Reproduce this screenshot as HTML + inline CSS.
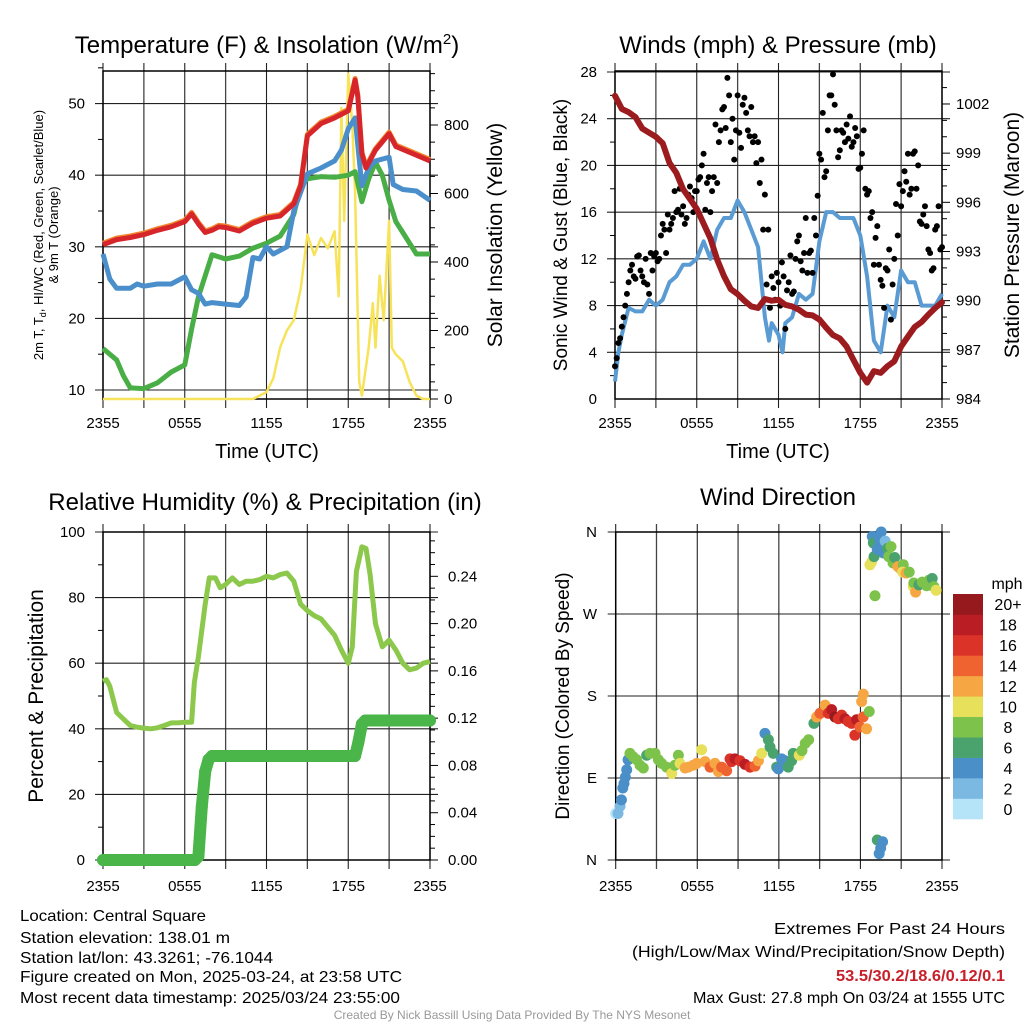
<!DOCTYPE html>
<html><head><meta charset="utf-8"><style>
html,body{margin:0;padding:0;background:#fff;}
svg{display:block;font-family:"Liberation Sans",sans-serif;}
</style></head><body>
<svg id="root" width="1024" height="1024" viewBox="0 0 1024 1024" xmlns="http://www.w3.org/2000/svg">
<g id="g-tl"></g>
<g id="g-tr"></g>
<g id="g-bl"></g>
<g id="g-br"></g>
<g font-size="16" fill="#000">
<text x="20" y="921" textLength="186" lengthAdjust="spacingAndGlyphs">Location: Central Square</text>
<text x="20" y="943" textLength="210" lengthAdjust="spacingAndGlyphs">Station elevation: 138.01 m</text>
<text x="20" y="963" textLength="253" lengthAdjust="spacingAndGlyphs">Station lat/lon: 43.3261; -76.1044</text>
<text x="20" y="982" textLength="382" lengthAdjust="spacingAndGlyphs">Figure created on Mon, 2025-03-24, at 23:58 UTC</text>
<text x="20" y="1003" textLength="380" lengthAdjust="spacingAndGlyphs">Most recent data timestamp: 2025/03/24 23:55:00</text>
</g>
<g font-size="16">
<text x="774" y="934" textLength="231" lengthAdjust="spacingAndGlyphs">Extremes For Past 24 Hours</text>
<text x="632" y="957" textLength="373" lengthAdjust="spacingAndGlyphs">(High/Low/Max Wind/Precipitation/Snow Depth)</text>
<text x="836" y="981" textLength="169" lengthAdjust="spacingAndGlyphs" fill="#c8202a" font-weight="bold">53.5/30.2/18.6/0.12/0.1</text>
<text x="693" y="1003" textLength="312" lengthAdjust="spacingAndGlyphs">Max Gust: 27.8 mph On 03/24 at 1555 UTC</text>
</g>
<text x="512" y="1019" font-size="12" fill="#999" text-anchor="middle">Created By Nick Bassill Using Data Provided By The NYS Mesonet</text>
</svg>
<script>
// ---------- DATA ----------
const timeTicks = ["2355","0555","1155","1755","2355"];
const tempHours = [0,1,2,3,4,5,6,6.5,7,7.5,8,8.5,9,10,11,12,13,14,14.5,15,16,17,18,18.3,18.5,18.7,19,19.3,20,21,21.5,22,23,24];
const tempRed   = [30.3,31.0,31.3,31.7,32.3,32.8,33.5,34.6,33.2,32.0,32.3,32.8,32.7,32.2,33.3,34.0,34.3,36.0,38.5,45.5,47.2,48.0,49.0,51.5,53.3,51,43,41,43.5,45.8,44,43.6,42.8,42.0];
const blueHours = [0,0.5,1,2,2.5,3,4,5,6,6.5,7,7.5,8,9,10,10.5,11,11.5,12,12.5,13,13.5,14,15,16,17,17.5,18,18.5,19,19.5,20,21,21.3,22,23,24];
const tempBlue  = [29,25.5,24.2,24.2,24.8,24.5,24.8,24.8,25.8,24.0,23.5,22,22.2,22.0,21.8,23,28.5,28.3,30.0,29,29.5,30,35,40.2,41.0,42.0,43.5,46.5,48,38.5,41.0,42,42.5,38.7,38,37.8,36.5];
const greenHours= [0,1,1.5,2,3,4,5,6,6.5,7,8,9,10,11,12,13,14,14.5,15,16,17,18,18.5,19,19.5,20,20.5,21,21.5,22,23,24];
const tempGreen = [15.8,14.2,12,10.3,10.2,11.0,12.5,13.5,18.5,23.0,28.9,28.3,28.7,29.8,30.5,31.5,34.5,38.5,39.5,39.8,39.7,40.0,40.5,36.3,39.5,41.8,40,36.5,33.5,32.0,29.0,29];
const solarHours= [0,11,11.5,12,12.5,13,13.5,14,14.5,15,15.5,16,16.5,17,17.3,17.5,17.7,18,18.3,18.5,18.8,19,19.5,19.8,20,20.3,20.6,21,21.2,21.5,22,22.5,23,23.5,24];
const solar     = [0,0,10,20,60,150,200,230,320,480,420,470,440,490,300,850,520,950,800,600,50,10,150,280,150,360,230,520,150,130,110,50,10,0,0];
const windHours = [0,0.25,0.5,1,1.5,2,2.5,3,3.5,4,4.5,5,5.5,6,6.5,7,7.5,8,8.5,9,9.5,10,10.5,11,11.3,11.5,12,12.3,12.5,13,13.5,14,14.5,15,15.5,16,16.5,17,17.5,18,18.5,19,19.5,20,20.5,21,21.5,22,22.5,23,23.5,24];
const windSpeed = [1.5,4,5.5,7.8,7.5,7.5,8.5,8,8.5,10,10.5,11.5,11.5,12,13.5,12,14.5,15.5,15.5,17,16,14.5,13,7,5,6.5,5.5,4,6.5,7,9,8.5,9,13.5,16,16,15.5,15.5,15.5,14,10.5,5,4,8,7,11,10,10,8,8,8,9];
const gustA = [2.8,4.8,6.2,8.0,10.0,11.5,10.3,12.3,10.5,12.0,9.0,11.0,12.5,12.0,15.0,12.5,14.5,15.5,16.0,18.0,16.5,15.5,18.2,16.0,17.8,19.0,21.0,18.5,16.0,19.0,18.5,23.0,25.0,27.5,22.0,20.5,26.0,21.5,25.8,23.0,25.0,22.5,22.0,20.5,17.5,14.5,10.5,8.5,10.0,11.7,6.0,10.0,9.0,12.0,14.0,11.0,15.5,12.5,10.8,14.0,21.0,24.5,19.5,26.0,27.8,23.0,21.3,22.8,23.5,24.2,22.0,22.5,19.8,23.0,17.5,15.5,11.5,14.8,10.2,7.8,11.0,6.8,12.0,14.0,16.5,19.5,21.0,18.0,21.2,20.0,15.0,16.5,12.8,11.0,14.5,16.5,13.0];
const gustB = [3.5,5.2,7.0,9.0,11.0,10.5,12.2,11.0,10.0,9.8,12.5,12.2,11.8,14.0,14.5,15.8,15.0,17.8,16.2,15.8,15.0,17.5,17.2,17.8,18.8,20.0,16.2,19.0,17.8,23.5,22.0,24.8,23.2,26.0,24.0,23.0,22.8,25.2,24.5,22.5,22.0,20.2,18.5,14.5,9.8,7.8,9.5,10.8,8.0,10.5,9.3,12.3,9.2,13.5,11.8,12.5,10.8,12.7,15.5,17.4,20.5,19.0,23.0,26.0,25.2,20.7,23.0,22.0,22.3,21.6,23.2,19.7,21.0,18.0,17.8,16.0,13.8,11.5,9.7,11.2,12.8,9.8,16.7,18.4,17.8,18.6,17.5,21.0,18.0,15.2,15.8,14.8,12.5,11.2,14.8,12.8];
const presHours = [0,0.5,1,1.5,2,3,3.5,4,4.5,5,6,6.5,7,7.5,8,8.5,9,9.5,10,10.5,11,11.5,12,12.5,13,13.5,14,14.5,15,15.5,16,16.5,17,17.5,18,18.5,19,19.5,20,20.5,21,21.5,22,22.5,23,23.5,24];
const pressure  = [1002.5,1001.7,1001.5,1001.2,1000.5,1000.0,999.6,998.4,997.8,996.8,995.6,994.7,993.8,992.5,991.5,990.7,990.4,990.0,989.65,989.55,990.1,990.0,990.05,989.75,989.65,989.45,989.15,989.1,988.85,988.35,987.9,987.7,987.2,986.4,985.6,985.0,985.7,985.6,986.0,986.3,987.2,987.8,988.4,988.7,989.15,989.55,989.9];
const rhHours = [0,0.25,0.5,1,1.5,2,2.5,3,3.5,4,4.5,5,5.5,6,6.5,6.7,7,7.5,7.8,8.25,8.6,9,9.5,10,10.5,11,11.5,12,12.5,13,13.5,14,14.5,15,15.5,16,16.5,17,17.5,18,18.3,18.6,19,19.3,19.6,20,20.5,21,21.5,22,22.5,23,23.5,24];
const rh = [54.5,55,53,45,43,41,40.5,40.2,40.0,40.3,41,41.8,41.8,42,42,54,62,78,86,86,83,84,86,84,85,85,85.5,86.5,86,87,87.5,85,78,76,74.5,73.5,71,68.5,64,60,65,88,95.5,95,87,72,65,67,64,60,58,58.5,60,60.5];
const precip = [0,0,0,0,0,0,0,0,0,0,0,0,0,0,0,0,0,0,0,0,0,0,0,0,0,0,0,0,0.003,0.045,0.075,0.085,0.088,0.088,0.088,0.088,0.088,0.088,0.088,0.088,0.088,0.088,0.088,0.088,0.088,0.088,0.088,0.088,0.088,0.088,0.088,0.088,0.088,0.088,0.088,0.088,0.088,0.088,0.088,0.088,0.088,0.088,0.088,0.088,0.088,0.088,0.088,0.088,0.088,0.088,0.088,0.088,0.088,0.088,0.088,0.1,0.115,0.118,0.118,0.118,0.118,0.118,0.118,0.118,0.118,0.118,0.118,0.118,0.118,0.118,0.118,0.118,0.118,0.118,0.118,0.118,0.118];
const wdHours = [0,0.17,0.32,0.42,0.52,0.61,0.71,0.81,0.91,1.05,1.3,1.54,1.79,2.03,2.28,2.52,2.89,3.14,3.38,3.74,4.12,4.36,4.61,4.73,5.1,5.34,5.71,5.96,6.32,6.57,6.94,7.3,7.55,7.79,8.16,8.41,8.53,8.77,9.14,9.51,9.88,10.25,10.5,10.74,10.98,11.23,11.35,11.59,11.84,11.96,12.2,12.45,12.69,12.94,13.06,13.5,13.7,13.94,14.19,14.58,14.78,15.03,15.4,15.64,15.88,16.13,16.37,16.62,16.86,17.1,17.35,17.59,17.72,17.96,18.09,18.21,18.2,18.45,18.65,
  18.7,18.82,18.87,19.0,18.95,19.24,19.38,19.45,19.53,19.7,19.82,20.0,20.08,20.25,20.4,20.52,20.76,20.98,21.15,21.11,21.35,21.59,21.89,21.93,22.06,22.3,22.55,22.87,23.04,23.28,23.4,23.57,
  19.07,19.24,19.63,19.49,19.38];
const wdDeg = [51,51,59,66,79,84,91,99,110,117,113,110,104,101,115,117,117,110,106,102,95,104,115,106,101,102,104,106,121,108,102,106,97,102,98,111,108,111,109,105,102,103,109,117,139,132,124,117,102,100,111,109,102,109,117,115,120,128,132,150,157,161,170,161,165,157,155,159,155,152,150,137,154,146,174,182,157,144,163,
  324,327,355,333,348,341,353,349,360,337,350,342,333,344,326,332,322,319,324,316,315,316,300,304,294,302,305,301,307,309,300,296,290,
  22,20,13,7,10];
const wdSpeed = [1,2,2,4,4,4,4,4,5,8,8,8,8,8,6,8,8,8,8,8,10,8,8,10,12,12,12,12,10,12,14,13,12,14,14,16,16,18,16,18,16,14,12,10,4,6,6,6,6,4,4,4,6,6,6,10,8,8,8,6,12,14,12,16,18,20,16,16,18,16,16,16,18,14,12,12,14,12,8,
  10,10,4,6,6,4,4,4,4,4,2,6,8,8,8,6,12,12,8,10,12,8,10,8,12,6,8,8,8,6,8,10,8,6,
  4,4,4,6,2];
const speedColors = ["#b5e3f7","#7cb9e2","#4a8fc8","#4aa36c","#7dc24a","#e6e05a","#f6a744","#ef6331","#dc3328","#bb1d25","#961a1d"];
const speedLabels = ["0","2","4","6","8","10","12","14","16","18","20+"];

// ---------- HELPERS ----------
const NS="http://www.w3.org/2000/svg";
function mk(parent,tag,attrs){const e=document.createElementNS(NS,tag);for(const k in attrs)e.setAttribute(k,attrs[k]);parent.appendChild(e);return e;}
function txt(parent,s,attrs){const e=mk(parent,"text",attrs);e.textContent=s;return e;}
function pathFrom(xs,ys,sx,sy){return xs.map((h,i)=>(i?"L":"M")+sx(h).toFixed(1)+","+sy(ys[i]).toFixed(1)).join("");}

function frame(g,X0,X1,Y0,Y1,hLines){
  for(let i=0;i<=8;i++){const x=X0+(X1-X0)*i/8;
    const l=mk(g,"line",{x1:x,x2:x,y1:Y0-8,y2:Y1+9,stroke:i%2?"#444":"#222","stroke-width":i%2?1.3:1.1});
    
    }
  hLines.forEach(y=>{const l=mk(g,"line",{x1:X0-8,x2:X1+8,y1:y,y2:y,stroke:"#222","stroke-width":1.1});
    
    });
  const r=mk(g,"rect",{x:X0,y:Y0,width:X1-X0,height:Y1-Y0,fill:"none",stroke:"#000","stroke-width":1.5});
  
  
}
function xticks(g,X0,X1,y){
  timeTicks.forEach((t,i)=>{const e=txt(g,t,{x:X0+(X1-X0)*i/4,y:y,"font-size":15,"text-anchor":"middle"});
    
    });
}
function minorTicks(g,x,ys,len){ys.forEach(y=>{const l=mk(g,"line",{x1:x,x2:x+len,y1:y,y2:y,stroke:"#000","stroke-width":1});
  
  });}

// ---------- TOP LEFT ----------
(function(){
  const g=document.getElementById("g-tl");
  const X0=103,X1=430,Y0=71,Y1=399;
  const sx=h=>X0+h*(X1-X0)/24;
  const sy=t=>390-(t-10)*7.16;
  const sr=w=>399-w*0.3425;
  frame(g,X0,X1,Y0,Y1,[10,20,30,40,50].map(sy));
  const ml=[];for(let t=15;t<=55;t+=10)ml.push(sy(t));minorTicks(g,X0-5,ml,5);
  const mr=[];for(let w=50;w<=950;w+=50)if(w%200)mr.push(sr(w));minorTicks(g,X1,mr,5);
  [0,200,400,600,800].forEach(w=>{mk(g,"line",{x1:X1,x2:X1+8,y1:sr(w),y2:sr(w),stroke:"#000"});
    const e=txt(g,String(w),{x:X1+14,y:sr(w)+5,"font-size":15});
    
    });
  [10,20,30,40,50].forEach(t=>{const e=txt(g,String(t),{x:X0-18,y:sy(t)+5,"font-size":15,"text-anchor":"end"});
    
    });
  xticks(g,X0,X1,428);
  const sol=mk(g,"path",{d:pathFrom(solarHours,solar,sx,sr),fill:"none",stroke:"#f7e35a","stroke-width":2.5,"stroke-linejoin":"round"});
  
  
  const gr=mk(g,"path",{d:pathFrom(greenHours,tempGreen,sx,sy),fill:"none",stroke:"#4aae47","stroke-width":5,"stroke-linejoin":"round"});
  
  
  const bl=mk(g,"path",{d:pathFrom(blueHours,tempBlue,sx,sy),fill:"none",stroke:"#4a8fcb","stroke-width":5,"stroke-linejoin":"round"});
  
  
  const or=mk(g,"path",{d:pathFrom(tempHours,tempRed,sx,t=>sy(t)-1.5),fill:"none",stroke:"#f2872f","stroke-width":5,"stroke-linejoin":"round"});
  
  
  const rd=mk(g,"path",{d:pathFrom(tempHours,tempRed,sx,sy),fill:"none",stroke:"#d7262b","stroke-width":5,"stroke-linejoin":"round"});
  
  
  const t1=txt(g,"",{x:267,y:53,"font-size":24,"text-anchor":"middle"});
  t1.innerHTML='Temperature (F) &amp; Insolation (W/m<tspan dy="-9" font-size="15">2</tspan><tspan dy="9">)</tspan>';
  
  
  const xl=txt(g,"Time (UTC)",{x:267,y:458,"font-size":20,"text-anchor":"middle"});
  
  
  const yl=txt(g,"",{transform:"translate(43,235) rotate(-90)","font-size":13,"text-anchor":"middle"});
  yl.innerHTML='2m T, T<tspan dy="3" font-size="9">d</tspan><tspan dy="-3">, HI/WC (Red, Green, Scarlet/Blue)</tspan>';
  
  
  const yl2=txt(g,"& 9m T (Orange)",{transform:"translate(58,235) rotate(-90)","font-size":13,"text-anchor":"middle"});
  
  
  const yr=txt(g,"Solar Insolation (Yellow)",{transform:"translate(502,235) rotate(-90)","font-size":21,"text-anchor":"middle"});
  
  
})();

// ---------- TOP RIGHT ----------
(function(){
  const g=document.getElementById("g-tr");
  const X0=615,X1=942,Y0=71,Y1=399;
  const sx=h=>X0+h*(X1-X0)/24;
  const sy=v=>399-v*(327/28);
  const sp=p=>399-(p-984)*16.39;
  frame(g,X0,X1,Y0,Y1,[4,8,12,16,20,24,28].map(sy));
  const ml=[];for(let v=2;v<28;v+=4)ml.push(sy(v));minorTicks(g,X0-5,ml,5);
  const mr=[];for(let p=985;p<=1003;p++)if((p-984)%3)mr.push(sp(p));minorTicks(g,X1,mr,5);
  [984,987,990,993,996,999,1002].forEach(p=>{mk(g,"line",{x1:X1,x2:X1+8,y1:sp(p),y2:sp(p),stroke:"#000"});
    const e=txt(g,String(p),{x:X1+14,y:sp(p)+5,"font-size":15});
    
    });
  [0,4,8,12,16,20,24,28].forEach(v=>{const e=txt(g,String(v),{x:X0-18,y:sy(v)+5,"font-size":15,"text-anchor":"end"});
    
    });
  xticks(g,X0,X1,428);
  const wl=mk(g,"path",{d:pathFrom(windHours,windSpeed,sx,sy),fill:"none",stroke:"#5a9bd3","stroke-width":4,"stroke-linejoin":"round"});
  
  
  [gustA,gustB].forEach((arr,k)=>arr.forEach((v,i)=>{
    const c=mk(g,"circle",{cx:sx(i*0.25+k*0.125),cy:sy(v),r:3,fill:"#000"});
    
    }));
  const pl=mk(g,"path",{d:pathFrom(presHours,pressure,sx,sp),fill:"none",stroke:"#9b1b1e","stroke-width":6,"stroke-linejoin":"round","stroke-linecap":"round"});
  
  
  const t=txt(g,"Winds (mph) & Pressure (mb)",{x:778,y:53,"font-size":24,"text-anchor":"middle"});
  
  
  const xl=txt(g,"Time (UTC)",{x:778,y:458,"font-size":20,"text-anchor":"middle"});
  
  
  const yl=txt(g,"Sonic Wind & Gust (Blue, Black)",{transform:"translate(567,235) rotate(-90)","font-size":19,"text-anchor":"middle"});
  
  
  const yr=txt(g,"Station Pressure (Maroon)",{transform:"translate(1019,235) rotate(-90)","font-size":21,"text-anchor":"middle"});
  
  
})();

// ---------- BOTTOM LEFT ----------
(function(){
  const g=document.getElementById("g-bl");
  const X0=103,X1=430,Y0=532,Y1=860;
  const sx=h=>X0+h*(X1-X0)/24;
  const sy=v=>860-v*3.28;
  const spp=p=>860-p*1182;
  frame(g,X0,X1,Y0,Y1,[0,20,40,60,80,100].map(sy));
  const ml=[];for(let v=10;v<100;v+=20)ml.push(sy(v));minorTicks(g,X0-5,ml,5);
  const mr=[];for(let p=1;p<=27;p++)if(p%4)mr.push(spp(p/100));minorTicks(g,X1,mr,5);
  [0,0.04,0.08,0.12,0.16,0.20,0.24].forEach(p=>{mk(g,"line",{x1:X1,x2:X1+8,y1:spp(p),y2:spp(p),stroke:"#000"});
    const e=txt(g,p.toFixed(2),{x:X1+18,y:spp(p)+5,"font-size":15});
    
    });
  [0,20,40,60,80,100].forEach(v=>{const e=txt(g,String(v),{x:X0-18,y:sy(v)+5,"font-size":15,"text-anchor":"end"});
    
    });
  xticks(g,X0,X1,891);
  const pr=mk(g,"path",{d:pathFrom(precip.map((p,i)=>i*0.25),precip,sx,spp),fill:"none",stroke:"#4ab548","stroke-width":12,"stroke-linecap":"round","stroke-linejoin":"round"});
  
  
  precip.forEach((p,i)=>{const c=mk(g,"circle",{cx:sx(i*0.25),cy:spp(p),r:6,fill:"#4ab548"});
    
    });
  const rl=mk(g,"path",{d:pathFrom(rhHours,rh,sx,sy),fill:"none",stroke:"#8cc84b","stroke-width":5,"stroke-linejoin":"round"});
  
  
  const t=txt(g,"Relative Humidity (%) & Precipitation (in)",{x:265,y:510,"font-size":24,"text-anchor":"middle"});
  
  
  const yl=txt(g,"Percent & Precipitation",{transform:"translate(43,696) rotate(-90)","font-size":21,"text-anchor":"middle"});
  
  
})();

// ---------- BOTTOM RIGHT ----------
(function(){
  const g=document.getElementById("g-br");
  const X0=615.7,X1=942,Y0=532,Y1=860;
  const sx=h=>X0+h*(X1-X0)/24;
  const sy=d=>860-d*(328/360);
  frame(g,X0,X1,Y0,Y1,[0,90,180,270,360].map(sy));
  [["N",0],["E",90],["S",180],["W",270],["N",360]].forEach(([s,d])=>{
    const e=txt(g,s,{x:597,y:sy(d)+5,"font-size":15,"text-anchor":"end"});
    
    });
  xticks(g,X0,X1,891);
  wdHours.forEach((h,i)=>{const c=mk(g,"circle",{cx:sx(h),cy:sy(wdDeg[i]),r:5.5,fill:speedColors[Math.min(10,Math.floor(wdSpeed[i]/2))]});
    
    });
  const t=txt(g,"Wind Direction",{x:778,y:505,"font-size":24,"text-anchor":"middle"});
  
  
  const yl=txt(g,"Direction (Colored By Speed)",{transform:"translate(569,696) rotate(-90)","font-size":19,"text-anchor":"middle"});
  
  
  const lg=mk(g,"g",{});
  
  
  const bh=(819-594)/11;
  speedColors.forEach((c,i)=>{const y=819-(i+1)*bh;
    const r=mk(lg,"rect",{x:953,y:y,width:30,height:bh+0.3,fill:c});
    
    
    const e=txt(lg,speedLabels[i],{x:1008,y:y+bh/2+6,"font-size":16,"text-anchor":"middle"});
    
    });
  const u=txt(lg,"mph",{x:1007,y:589,"font-size":16,"text-anchor":"middle"});
  
  
})();
</script>
</body></html>
